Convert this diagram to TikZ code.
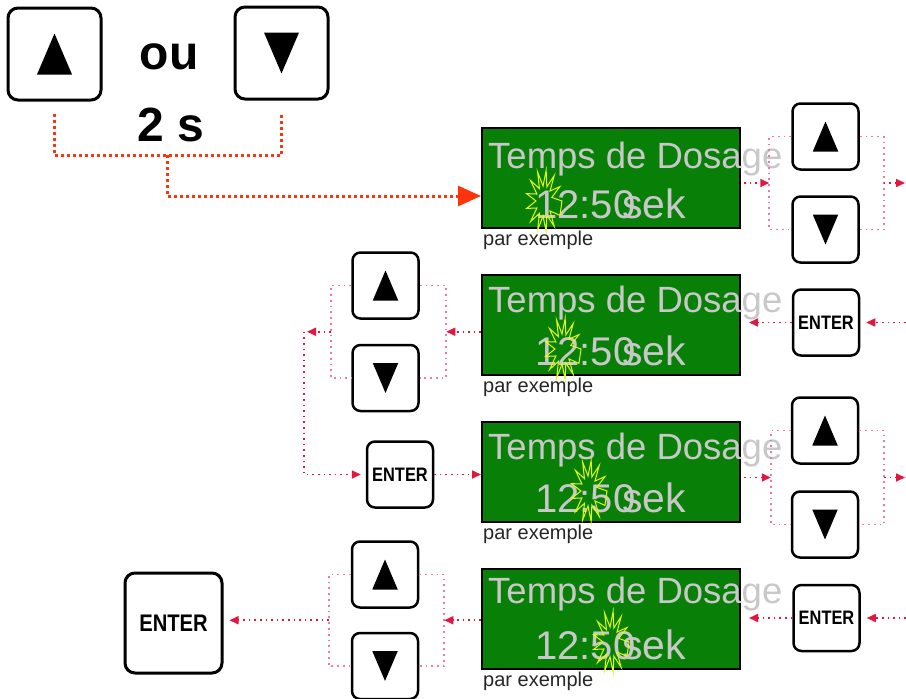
\documentclass[tikz,border=0pt]{standalone}
\usepackage{fontspec}
\setmainfont{Liberation Sans}
\newfontfamily\keyfont{Liberation Sans}[FakeStretch=0.84]
\usetikzlibrary{arrows.meta,calc}

\definecolor{lcdgreen}{RGB}{8,128,8}
\definecolor{lcdtext}{RGB}{200,200,200}
\definecolor{holdred}{RGB}{255,52,10}
\definecolor{linkred}{RGB}{226,22,62}
\definecolor{bracepink}{RGB}{240,120,155}
\definecolor{sparkyellow}{RGB}{225,250,20}

\tikzset{
  key/.style={draw,line width=2.5pt,rounded corners=8pt,fill=white,inner sep=0pt,
    minimum width=66pt,minimum height=66pt,font=\keyfont\bfseries\fontsize{19.5}{21}\selectfont},
  bigkey/.style={key,line width=3pt,rounded corners=10pt,minimum width=93pt,minimum height=92pt,
    font=\keyfont\bfseries\fontsize{24}{26}\selectfont},
  lcd/.style={draw,line width=2pt,fill=lcdgreen,anchor=north west,inner sep=0pt,
    minimum width=258pt,minimum height=100pt},
  lcdline/.style={inner sep=0pt,anchor=base west,text=lcdtext},
  hold/.style={holdred,line width=3pt,dash pattern=on 3pt off 3pt},
  brace/.style={bracepink,line width=1.8pt,dash pattern=on 1.8pt off 4pt},
  link/.style={linkred,line width=1.6pt,dash pattern=on 1.6pt off 4pt,
    -{Triangle[length=9pt,width=8pt]}},
  spark/.style={sparkyellow,line width=1pt,line join=miter}
}

\newcommand\spark[1]{\draw[spark,shift={(#1)}] (0:18pt and 31pt)
  \foreach \a in {0,27.7,...,332}{ -- (\a+13.8:8pt and 15pt) -- (\a+27.7:18pt and 31pt)} -- cycle;}

\begin{document}
\begin{tikzpicture}[x=1pt,y=-1pt]
  \useasboundingbox (0,0) rectangle (906,699);

  % hold one of the arrow keys
  \node[bigkey] (up0) at (54.5,54) {};
  \node[bigkey] (dn0) at (281.5,53) {};
  \fill (up0.center) ++(0,-20.5) -- ++(17.5,41) -- ++(-35,0) -- cycle;
  \fill (dn0.center) ++(0,20.5) -- ++(17.5,-41) -- ++(-35,0) -- cycle;
  \node[font=\bfseries\fontsize{48}{50}\selectfont] (ou) at (169,57) {ou};
  \node[font=\bfseries\fontsize{48}{50}\selectfont] (dur) at (171,125) {2 s};
  \coordinate (j0) at (167,155);

  % displays
  \foreach \n/\top/\ty/\sx/\sy in {1/127/41/544/201,2/274/38/563/349,3/421/38/589/491,4/568/35/611/642}{
    \node[lcd] (lcd\n) at (481,\top) {};
    \node[lcdline,font=\fontsize{36.5}{40}\selectfont] (title\n) at (488,\top+\ty) {Temps de Dosage};
    \node[lcdline,font=\fontsize{40}{44}\selectfont] (time\n) at (535,\top+91) {12:50};
    \node[lcdline,font=\fontsize{41}{44}\selectfont] (unit\n) at (622,\top+91) {sek};
    \spark{\sx,\sy}
    \node[inner sep=0pt,anchor=base west,text=black!85,font=\fontsize{20}{22}\selectfont]
      (note\n) at (483,\top+118) {par exemple};
  }

  % keys
  \node[key] (up1) at (825.5,136.5) {};
  \node[key] (dn1) at (825.5,229.5) {};
  \node[key] (ent2) at (826,322.5) {ENTER};
  \node[key] (up2) at (385.5,285.5) {};
  \node[key] (dn2) at (385.5,378) {};
  \node[key] (ent3) at (400,474.5) {ENTER};
  \node[key] (up3) at (825,430.5) {};
  \node[key] (dn3) at (825,524.5) {};
  \node[key] (ent4) at (826.5,618) {ENTER};
  \node[key] (up4) at (385,574.5) {};
  \node[key] (dn4) at (385,666) {};
  \node[bigkey,minimum width=97pt,minimum height=100pt] (entF) at (173.5,623) {ENTER};

  \foreach \n/\a/\b in {1/22/24,2/20.5/26.5,3/20/25,4/22/25}{
    \fill (up\n.center) ++(0,-15) -- ++(12.75,30) -- ++(-25.5,0) -- cycle;
    \fill (dn\n.center) ++(0,15) -- ++(12.75,-30) -- ++(-25.5,0) -- cycle;
    \draw[brace] (up\n.west) -- ++(-\a,0) |- (dn\n.west);
    \draw[brace] (up\n.east) -- ++(\b,0) |- (dn\n.east);
    \coordinate (l\n) at ($(up\n.west)!.5!(dn\n.west)+(-\a,0)$);
    \coordinate (r\n) at ($(up\n.east)!.5!(dn\n.east)+(\b,0)$);
  }
  \coordinate (edge1) at (905,183);
  \coordinate (edge2) at (906,322.5);
  \coordinate (edge3) at (905,477.5);
  \coordinate (edge4) at (906,618);
  \coordinate (turn2) at (304,331.75);

  % connectors
  \draw[hold] ($(up0.south)+(0,12)$) |- (j0) -| ($(dn0.south)+(0,12)$);
  \draw[hold,-{Triangle[length=23pt,width=20pt]}] (j0) |- ($(lcd1.west)+(0,18)$);

  \draw[link,shorten <=3pt] (lcd1.east |- l1) -- (l1);
  \draw[link] (r1) -- (edge1);
  \draw[link,shorten >=6pt] (edge2) -- (ent2.east);
  \draw[link,shorten >=8pt] (ent2.west) -- (ent2.west -| lcd2.east);
  \draw[link] (lcd2.west |- r2) -- (r2);
  \draw[link,shorten >=3pt] (l2) -- (turn2);
  \draw[link,shorten >=5pt] (turn2) |- (ent3.west);
  \draw[link] (ent3.east) -- (ent3.east -| lcd3.west);
  \draw[link,shorten <=3pt] (lcd3.east |- l3) -- (l3);
  \draw[link] (r3) -- (edge3);
  \draw[link,shorten >=6pt] (edge4) -- (ent4.east);
  \draw[link,shorten >=8pt] (ent4.west) -- (ent4.west -| lcd4.east);
  \draw[link] (lcd4.west |- r4) -- (r4);
  \draw[link,shorten >=6pt] (l4) -- (entF.east |- l4);
\end{tikzpicture}
\end{document}
